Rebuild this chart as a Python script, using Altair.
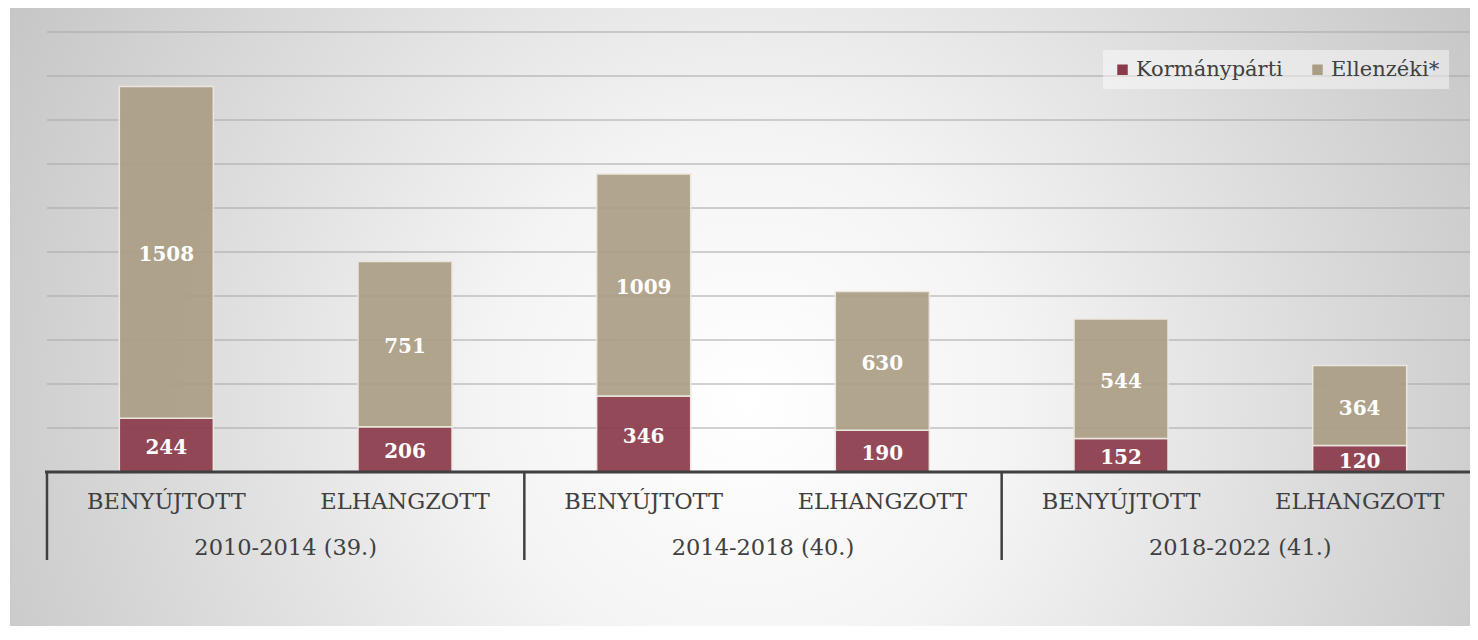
import altair as alt
import pandas as pd

# ---- data ----
periods = ["2010-2014 (39.)", "2014-2018 (40.)", "2018-2022 (41.)"]
kinds = ["BENYÚJTOTT", "ELHANGZOTT"]
series = ["Kormánypárti", "Ellenzéki*"]
korm = [244, 206, 346, 190, 152, 120]
ellen = [1508, 751, 1009, 630, 544, 364]
grid_values = [200, 400, 600, 800, 1000, 1200, 1400, 1600, 1800, 2000]
boundaries = [0, 1, 2, 3]

FONT = "DejaVu Serif"
RED = "#8B3A4B"
BEIGE = "#AA9D84"
TXT = "#404040"
RANGE_W = 1432

keys = [f"{p}|{k}" for p in periods for k in kinds]
rows = []
for i, key in enumerate(keys):
    p, k = key.split("|")
    rows.append({"key": key, "kind": k, "period": p, "series": series[0], "o": 0, "value": korm[i]})
    rows.append({"key": key, "kind": k, "period": p, "series": series[1], "o": 1, "value": ellen[i]})
bars_df = pd.DataFrame(rows)
keys_df = pd.DataFrame({"key": keys, "kind": [k.split("|")[1] for k in keys]})
periods_df = pd.DataFrame({"period": periods})
grid_df = pd.DataFrame({"v": grid_values})
bound_df = pd.DataFrame({"b": boundaries})

xs = alt.Scale(domain=keys, range=[0, RANGE_W], paddingInner=0.606, paddingOuter=0.303)
ys = alt.Scale(domain=[0, 2000], nice=False, zero=True)

gradient = {
    "gradient": "radial",
    "x1": 0.5, "y1": 0.55, "x2": 0.5, "y2": 0.55,
    "r1": 0, "r2": 0.6,
    "stops": [
        {"offset": 0, "color": "#ffffff"},
        {"offset": 0.3, "color": "#f4f4f4"},
        {"offset": 1, "color": "#c2c2c2"},
    ],
}

bg = alt.Chart(pd.DataFrame({"a": [0]})).mark_rect(fill=gradient).encode(
    x=alt.value(-37), x2=alt.value(1440), y=alt.value(-26), y2=alt.value(620)
)

grid = alt.Chart(grid_df).mark_rule(color="#a6a6a6", strokeWidth=1.2).encode(
    y=alt.Y("v:Q", scale=ys, axis=None), x=alt.value(0), x2=alt.value(RANGE_W)
)

bars = alt.Chart(bars_df).mark_bar(stroke="#ece7de", strokeWidth=1.5, fillOpacity=0.92).encode(
    x=alt.X("key:N", scale=xs, axis=None, sort=keys),
    y=alt.Y("value:Q", scale=ys, axis=None, stack="zero"),
    color=alt.Color(
        "series:N",
        scale=alt.Scale(domain=series, range=[RED, BEIGE]),
        legend=alt.Legend(
            title=None, orient="none", legendX=1056, legendY=18, direction="horizontal",
            fillColor="rgba(255,255,255,0.45)", padding=9, symbolType="square",
            symbolSize=110, symbolStrokeWidth=0, symbolOpacity=1, labelFont=FONT,
            labelFontSize=21, labelColor=TXT, columnPadding=24, labelOffset=3, zindex=1,
        ),
    ),
    order=alt.Order("o:Q", sort="ascending"),
)

labels = (
    alt.Chart(bars_df)
    .transform_stack(stack="value", groupby=["key"], sort=[alt.SortField("o", order="ascending")], as_=["y0", "y1"])
    .transform_calculate(mid="(datum.y0 + datum.y1) / 2")
    .mark_text(font=FONT, fontSize=20, fontWeight="bold", color="white", baseline="middle", dy=3)
    .encode(
        x=alt.X("key:N", scale=xs, axis=None, sort=keys),
        y=alt.Y("mid:Q", scale=ys, axis=None),
        text="value:Q",
    )
)

baseline = alt.Chart(pd.DataFrame({"v": [0]})).mark_rule(color=TXT, strokeWidth=3).encode(
    y=alt.Y("v:Q", scale=ys, axis=None), x=alt.value(-2), x2=alt.value(RANGE_W)
)

seps = alt.Chart(bound_df).mark_rule(color=TXT, strokeWidth=2.5).encode(
    x=alt.X("b:Q", scale=alt.Scale(domain=[0, 3], range=[0, RANGE_W], nice=False, zero=False), axis=None),
    y=alt.value(440), y2=alt.value(528),
)

kind_text = alt.Chart(keys_df).mark_text(font=FONT, fontSize=22.5, color=TXT, baseline="middle").encode(
    x=alt.X("key:N", scale=xs, axis=None, sort=keys),
    y=alt.value(470),
    text="kind:N",
)

period_text = alt.Chart(periods_df).mark_text(font=FONT, fontSize=22.5, color=TXT, baseline="middle").encode(
    x=alt.X("period:N", scale=alt.Scale(domain=periods, range=[0, RANGE_W], paddingInner=0, paddingOuter=0), axis=None, sort=periods),
    y=alt.value(516),
    text="period:N",
)

chart = (
    alt.layer(bg, grid, bars, labels, baseline, seps, kind_text, period_text)
    .resolve_scale(x="independent")
    .properties(
        width=1423, height=440,
        padding={"left": 39, "top": 24, "right": 0, "bottom": 154},
        autosize=alt.AutoSizeParams(type="none"),
        background="#ffffff",
    )
    .configure_view(stroke=None)
)

chart.save("out.html", embed_options={"renderer": "svg", "actions": False})
